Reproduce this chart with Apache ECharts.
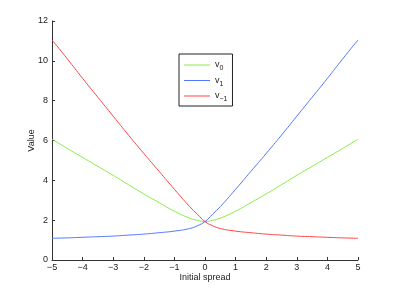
<!DOCTYPE html>
<html><head><meta charset="utf-8">
<script src="https://cdn.jsdelivr.net/npm/echarts@6/dist/echarts.min.js"></script>
<style>html,body{margin:0;padding:0;background:#fff}#c{width:395px;height:293px}</style>
</head><body><div id="c"></div>
<script>
var xs = [-5,-4.5,-4,-3.5,-3,-2.5,-2,-1.5,-1,-0.5,-0.25,0,0.25,0.5,1,1.5,2,2.5,3,3.5,4,4.5,5];
var v0 = [6.07,5.6,5.15,4.7,4.25,3.78,3.32,2.88,2.45,2.1,1.99,1.93,1.99,2.1,2.45,2.88,3.32,3.78,4.25,4.7,5.15,5.6,6.07];
var v1 = [1.09,1.11,1.14,1.17,1.2,1.25,1.3,1.37,1.45,1.58,1.72,1.93,2.3,2.68,3.55,4.45,5.35,6.27,7.22,8.17,9.12,10.1,11.05];
var vm1 = [11.05,10.1,9.12,8.17,7.22,6.27,5.35,4.45,3.55,2.68,2.3,1.93,1.72,1.58,1.45,1.37,1.3,1.25,1.2,1.17,1.14,1.11,1.09];
var names = ['v0','v1','v-1'];
var subs = {'v0':'0','v1':'1','v-1':'\u22121'};
function pairs(ys){return xs.map(function(x,i){return [x,ys[i]];});}
var font = 'Liberation Sans, Arial, sans-serif';
var axisCol = '#333';
function minus(v){return String(v).replace('-','\u2212');}
var chart = echarts.init(document.getElementById('c'), null, {renderer:'canvas'});
chart.setOption({
  animation:false,
  backgroundColor:'#fff',
  grid:{left:52,right:37,top:21,bottom:33},
  legend:{
    orient:'vertical', left:179, top:54,
    borderColor:'#222', borderWidth:1, borderRadius:0,
    padding:[4,5,3,5], itemGap:1.5, itemWidth:26, itemHeight:1, itemTextGap:3,
    icon:'rect',
    data:names,
    formatter:function(n){return '{a|v}{b|'+subs[n]+'}';},
    textStyle:{fontFamily:font,fontSize:9,color:'#222',
      rich:{a:{fontFamily:font,fontSize:9,color:'#222',lineHeight:12},
            b:{fontFamily:font,fontSize:7,color:'#222',lineHeight:12,padding:[7,0,0,0]}}}
  },
  xAxis:{type:'value',min:-5,max:5,interval:1,
    name:'Initial spread',nameLocation:'middle',nameGap:13,nameMoveOverlap:false,
    nameTextStyle:{fontFamily:font,fontSize:9,color:'#222'},
    axisLine:{onZero:false,lineStyle:{color:axisCol,width:1}},
    axisTick:{inside:true,length:3,lineStyle:{color:axisCol}},
    axisLabel:{fontFamily:font,fontSize:9,color:'#222',margin:3,formatter:minus},
    splitLine:{show:false}},
  yAxis:{type:'value',min:0,max:12,interval:2,
    name:'Value',nameLocation:'middle',nameGap:16,nameMoveOverlap:false,
    nameTextStyle:{fontFamily:font,fontSize:9,color:'#222'},
    axisLine:{show:true,onZero:false,lineStyle:{color:axisCol,width:1}},
    axisTick:{show:true,inside:true,length:3,lineStyle:{color:axisCol}},
    axisLabel:{fontFamily:font,fontSize:9,color:'#222',margin:4},
    splitLine:{show:false}},
  series:[
    {name:'v0',type:'line',data:pairs(v0),smooth:0.5,symbol:'none',color:'#88ee44',lineStyle:{width:1,color:'#88ee44'}},
    {name:'v1',type:'line',data:pairs(v1),smooth:0.5,symbol:'none',color:'#5577ff',lineStyle:{width:1,color:'#5577ff'}},
    {name:'v-1',type:'line',data:pairs(vm1),smooth:0.5,symbol:'none',color:'#ff4444',lineStyle:{width:1,color:'#ff4444'}}
  ]
});
</script></body></html>
